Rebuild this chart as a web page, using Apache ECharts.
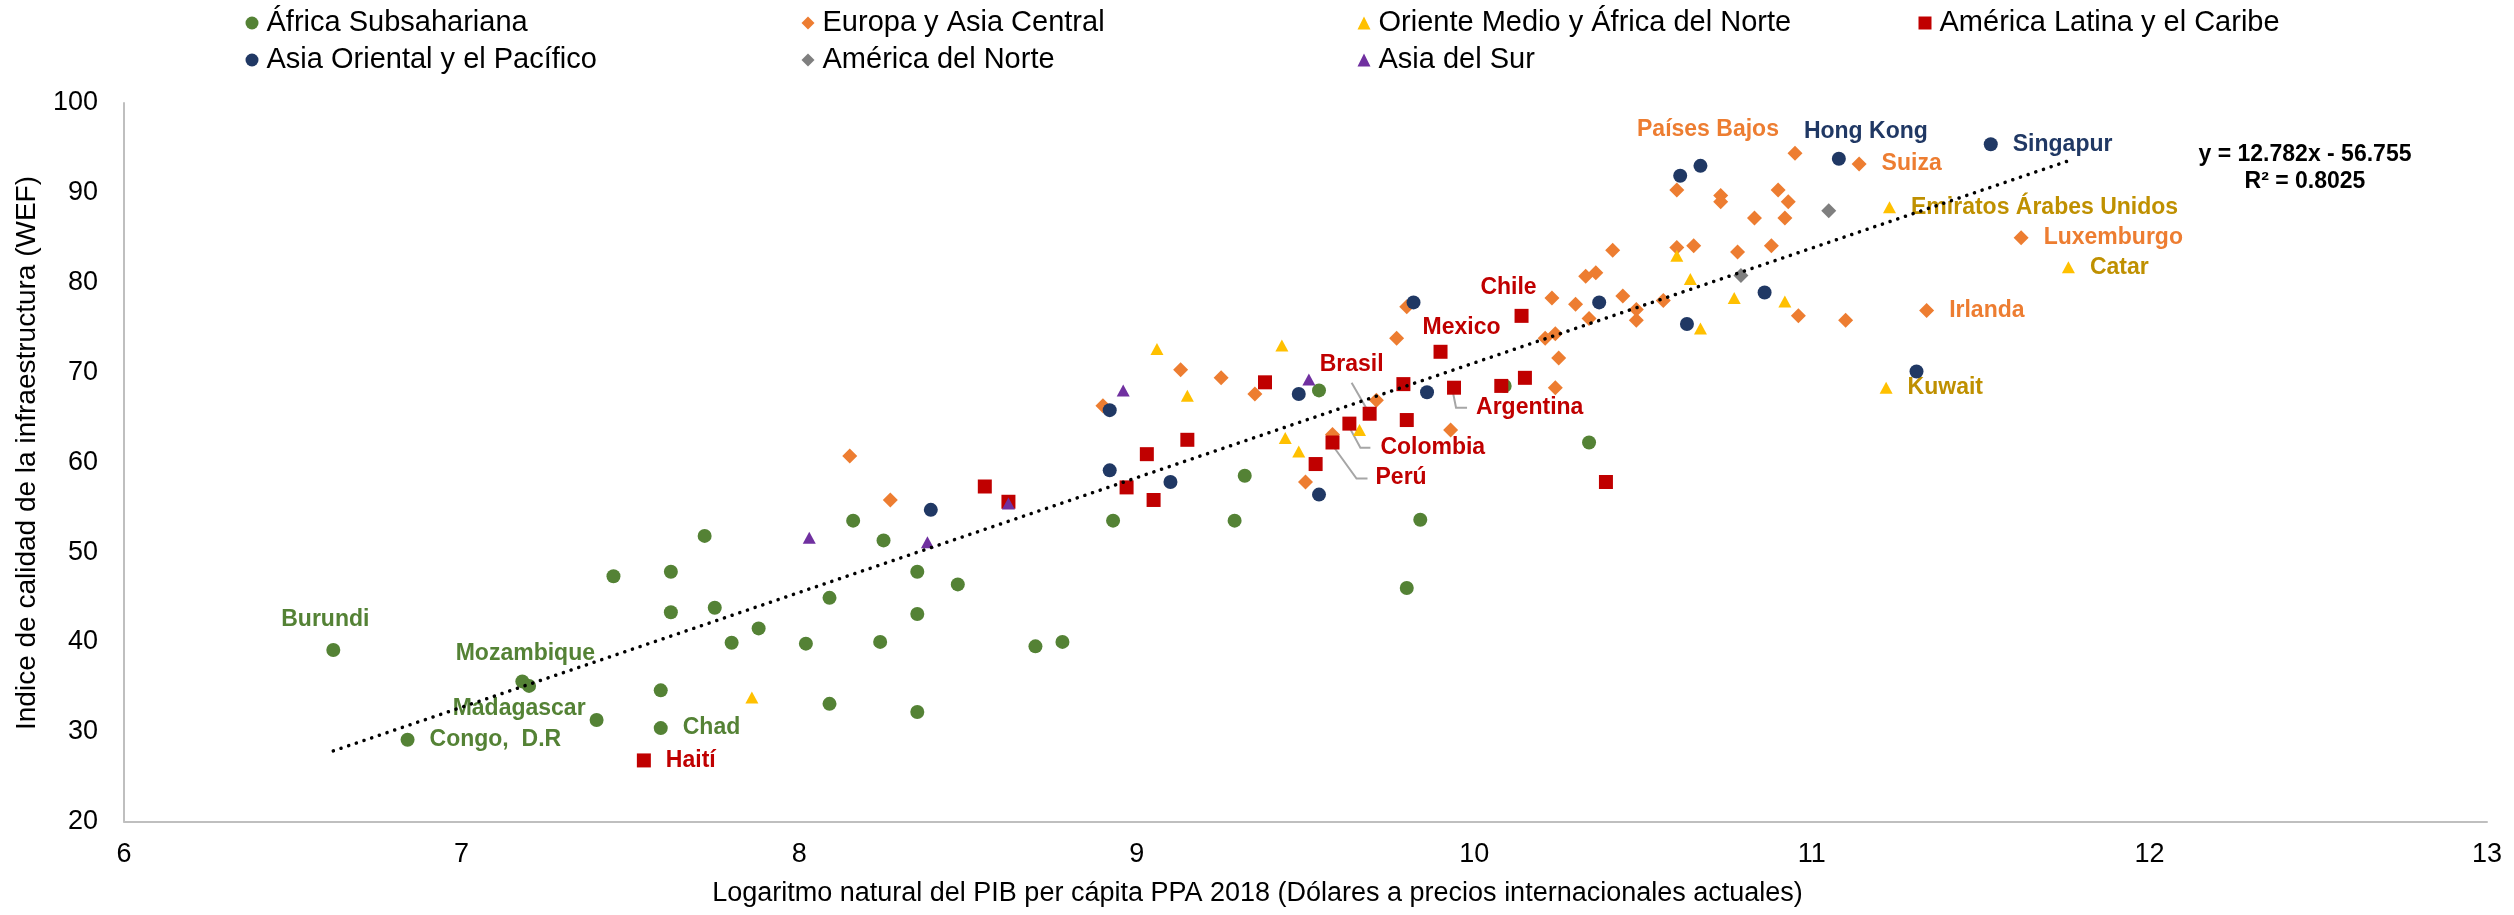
<!DOCTYPE html>
<html><head><meta charset="utf-8">
<script src="https://cdn.jsdelivr.net/npm/echarts@6/dist/echarts.min.js"></script>
<style>html,body{margin:0;padding:0;background:#fff}#c{width:2514px;height:915px}</style>
</head><body><div id="c"></div>
<script>
// ---------------- DATA ----------------
const seriesNames = ['África Subsahariana','Europa y Asia Central','Oriente Medio y África del Norte','América Latina y el Caribe','Asia Oriental y el Pacífico','América del Norte','Asia del Sur'];

const africaSubsahariana = [
 [6.62,39.1],[7.72,51.8],[7.45,47.3],[7.62,47.8],[7.62,43.3],[7.75,43.8],[7.88,41.5],[7.80,39.9],
 [7.18,35.6],[7.20,35.1],[7.59,34.6],[7.40,31.3],[6.84,29.1],[7.59,30.4],[8.02,39.8],[8.16,53.5],
 [8.25,51.3],[8.35,47.8],[8.47,46.4],[8.09,44.9],[8.35,43.1],[8.24,40.0],[8.70,39.5],[8.78,40.0],
 [8.09,33.1],[8.35,32.2],[9.32,58.5],[8.93,53.5],[9.29,53.5],[9.54,68.0],[9.84,53.6],[9.80,46.0],
 [10.09,68.5],[10.34,62.2]
];
const europaAsiaCentral = [
 [8.15,60.7],[8.27,55.8],[8.90,66.3],[9.13,70.3],[9.25,69.4],[9.35,67.6],[9.80,77.3],[9.77,73.8],
 [9.71,66.9],[9.58,63.1],[9.50,57.8],[9.93,63.6],[10.24,68.3],[10.25,71.6],[10.21,73.8],[10.24,74.3],
 [10.30,77.6],[10.23,78.3],[10.34,76.0],[10.33,80.7],[10.36,81.1],[10.95,94.4],[11.14,93.2],[10.60,90.3],
 [10.73,89.7],[10.73,89.0],[10.90,90.3],[10.93,89.0],[10.83,87.2],[10.92,87.2],[11.62,85.0],[10.41,83.6],
 [10.60,83.9],[10.65,84.1],[10.78,83.4],[10.88,84.1],[10.44,78.5],[10.48,77.0],[10.48,75.8],[10.56,78.0],
 [10.96,76.3],[11.10,75.8],[11.34,76.9]
];
const orienteMedio = [
 [7.86,33.8],[9.15,67.4],[9.06,72.6],[9.43,73.0],[9.66,63.6],[9.44,62.7],[9.48,61.2],[11.23,88.4],
 [10.60,83.0],[10.64,80.4],[10.77,78.3],[10.92,77.9],[10.67,74.9],[11.22,68.3],[11.76,81.7]
];
const americaLatina = [
 [7.54,26.8],[8.55,57.3],[8.62,55.6],[9.15,62.5],[9.03,60.9],[8.97,57.2],[9.05,55.8],[9.38,68.9],
 [10.14,76.3],[9.90,72.3],[9.79,68.7],[9.94,68.3],[10.08,68.5],[10.15,69.4],[9.69,65.4],[9.80,64.7],
 [9.63,64.3],[9.58,62.2],[9.53,59.8],[10.39,57.8]
];
const asiaOriental = [
 [8.92,65.8],[8.92,59.1],[9.10,57.8],[8.39,54.7],[9.48,67.6],[9.82,77.8],[9.86,67.8],[9.54,56.4],
 [10.37,77.8],[10.61,91.9],[10.67,93.0],[11.08,93.8],[11.53,95.4],[10.86,78.9],[10.63,75.4],[11.31,70.1]
];
const americaNorte = [[11.05,88.0],[10.79,80.8]];
const asiaSur = [[8.96,68.0],[8.62,55.4],[8.03,51.6],[8.38,51.1],[9.51,69.2]];

// [series index, point index, label text]
const pointLabels = [
 [0,0,'Burundi'],[0,8,'Mozambique'],[0,11,'Madagascar'],[0,12,'Congo,  D.R'],[0,13,'Chad'],
 [1,21,'Países Bajos'],[1,22,'Suiza'],[1,30,'Luxemburgo'],[1,42,'Irlanda'],
 [2,7,'Emiratos Árabes Unidos'],[2,13,'Kuwait'],[2,14,'Catar'],
 [3,0,'Haití'],[3,8,'Chile'],[3,9,'Mexico'],[3,11,'Argentina'],[3,14,'Brasil'],[3,16,'Colombia'],[3,17,'Perú'],
 [4,11,'Hong Kong'],[4,12,'Singapur']
];
const trendSlope = 12.782, trendIntercept = -56.755, trendR2 = '0.8025';
const xMin = 6, xMax = 13, xStep = 1, yMin = 20, yMax = 100, yStep = 10;
const xTitle = 'Logaritmo natural del PIB per cápita PPA 2018 (Dólares a precios internacionales actuales)';
const yTitle = 'Indice de calidad de la infraestructura (WEF)';

// ---------------- STYLE ----------------
const FONT = '"Liberation Sans", Arial, sans-serif';
const colors = ['#548235','#ED7D31','#FFC000','#C00000','#203864','#7F7F7F','#7030A0'];
const labelColors = ['#548235','#ED7D31','#BF9000','#C00000','#203864','#7F7F7F','#7030A0'];
const symbols = ['circle','diamond','triangle','rect','circle','diamond','triangle'];
const symbolSizes = [14,15,[13,12],14,14,15,[13,12]];
const legendPos = [[252,23],[808,23],[1364,23],[1925,23],[252,60],[808,60],[1364,60]];
// label placement
const labelPlace = {
 'Burundi':{center:[-8,-30]}, 'Mozambique':{center:[3,-28]}, 'Madagascar':{rightAt:[-11,-11]},
 'Congo,  D.R':{side:'right'}, 'Chad':{side:'right'}, 'Haití':{side:'right'},
 'Países Bajos':{center:[-87,-24]}, 'Suiza':{side:'right'}, 'Luxemburgo':{side:'right'}, 'Irlanda':{side:'right'},
 'Emiratos Árabes Unidos':{side:'right'}, 'Kuwait':{side:'right'}, 'Catar':{side:'right'},
 'Chile':{center:[-13,-28]}, 'Mexico':{center:[21,-24]},
 'Brasil':{center:[-18,-49], leader:[[-18,-31],[-3,-5]]},
 'Colombia':{leftAt:[31,24], leader:[[-2,0],[11,24],[21,24]]},
 'Perú':{leftAt:[43,35], leader:[[-2,0],[24,36],[35,36]]},
 'Argentina':{leftAt:[22,20], leader:[[-2,0],[2,20],[13,20]]},
 'Hong Kong':{center:[27,-27]}, 'Singapur':{side:'right'}
};

const allSeries = [africaSubsahariana, europaAsiaCentral, orienteMedio, americaLatina, asiaOriental, americaNorte, asiaSur];

function buildData(si){
  return allSeries[si].map((p, pi) => {
    const lab = pointLabels.find(l => l[0] === si && l[1] === pi);
    if (!lab) return {value: p};
    const txt = lab[2], pl = labelPlace[txt];
    const base = {show:true, formatter: txt, color: labelColors[si], fontFamily: FONT, fontSize: 23,
      fontWeight:'bold', textBorderWidth:0};
    if (pl.side) { base.position = pl.side; base.distance = pl.side === 'right' ? 15 : 4; }
    else if (pl.center) { base.position = 'inside'; base.offset = pl.center; base.align='center'; base.verticalAlign='middle'; }
    else if (pl.leftAt) { base.position = 'inside'; base.offset = pl.leftAt; base.align='left'; base.verticalAlign='middle'; }
    else if (pl.rightAt) { base.position = 'inside'; base.offset = pl.rightAt; base.align='right'; base.verticalAlign='middle'; }
    return {value: p, label: base};
  });
}

const scatterSeries = seriesNames.map((n, i) => ({
  type:'scatter', name:n, data: buildData(i), symbol: symbols[i], symbolSize: symbolSizes[i],
  itemStyle:{color: colors[i], opacity:1}, emphasis:{disabled:true}, z: 2 + i*0.01
}));

// trendline endpoints over the data range, from the chart's displayed equation
const allX = allSeries.flat().map(p => p[0]);
const tx0 = Math.min(...allX), tx1 = Math.max(...allX);
const trendData = [[tx0, trendSlope*tx0 + trendIntercept], [tx1, trendSlope*tx1 + trendIntercept]];

// leader lines
const leaderItems = pointLabels.filter(l => labelPlace[l[2]].leader).map(l => ({value: allSeries[l[0]][l[1]], name: l[2]}));

const chart = echarts.init(document.getElementById('c'), null, {renderer:'canvas'});
chart.setOption({
  animation:false,
  backgroundColor:'#ffffff',
  textStyle:{fontFamily: FONT},
  grid:{left:124, right:27, top:103, bottom:93.5, containLabel:false},
  title:{text:'y = 12.782x - 56.755\nR² = ' + trendR2, left:2300, top:136, textAlign:'center',
    textStyle:{fontFamily:FONT, fontSize:23, fontWeight:'bold', color:'#000', lineHeight:27}},
  graphic:[{type:'text', x:27.5, y:453, rotation:Math.PI/2, silent:true,
    style:{text:yTitle, fontFamily:FONT, fontSize:28, fill:'#000', align:'center', verticalAlign:'middle'}}],
  legend: seriesNames.map((n, i) => ({
    data:[{name:n, icon: symbols[i]}], left: legendPos[i][0]-6.5, top: legendPos[i][1]-16,
    itemWidth:13, itemHeight:13, padding:0, selectedMode:false,
    textStyle:{fontFamily:FONT, fontSize:29, lineHeight:32, color:'#000', padding:[0,0,0,3]}
  })),
  xAxis:{type:'value', min:xMin, max:xMax, interval:xStep, splitLine:{show:false},
    axisLine:{show:true, lineStyle:{color:'#BFBFBF', width:2}}, axisTick:{show:false},
    axisLabel:{fontFamily:FONT, fontSize:27, color:'#000', margin:20},
    name:xTitle, nameLocation:'middle', nameGap:59,
    nameTextStyle:{fontFamily:FONT, fontSize:27, color:'#000', padding:[0,96,0,0]}},
  yAxis:{type:'value', min:yMin, max:yMax, interval:yStep, splitLine:{show:false},
    axisLine:{show:true, lineStyle:{color:'#BFBFBF', width:2}}, axisTick:{show:false},
    axisLabel:{fontFamily:FONT, fontSize:27, color:'#000', margin:26}},
  series: scatterSeries.concat([
    {type:'custom', name:'leaders', data: leaderItems, z:1, silent:true,
     renderItem: function(params, api){
       const it = leaderItems[params.dataIndex];
       const c = api.coord(it.value);
       const pts = labelPlace[it.name].leader.map(d => [c[0]+d[0], c[1]+d[1]]);
       return {type:'polyline', shape:{points: pts}, style:{stroke:'#A6A6A6', lineWidth:2, fill:null}};
     }},
    {type:'line', name:'tendencia', data: trendData, showSymbol:false, symbol:'none', silent:true, z:5,
     lineStyle:{color:'#000', width:3.5, type:[0.1, 8], cap:'round'}, emphasis:{disabled:true}}
  ])
});
</script></body></html>
